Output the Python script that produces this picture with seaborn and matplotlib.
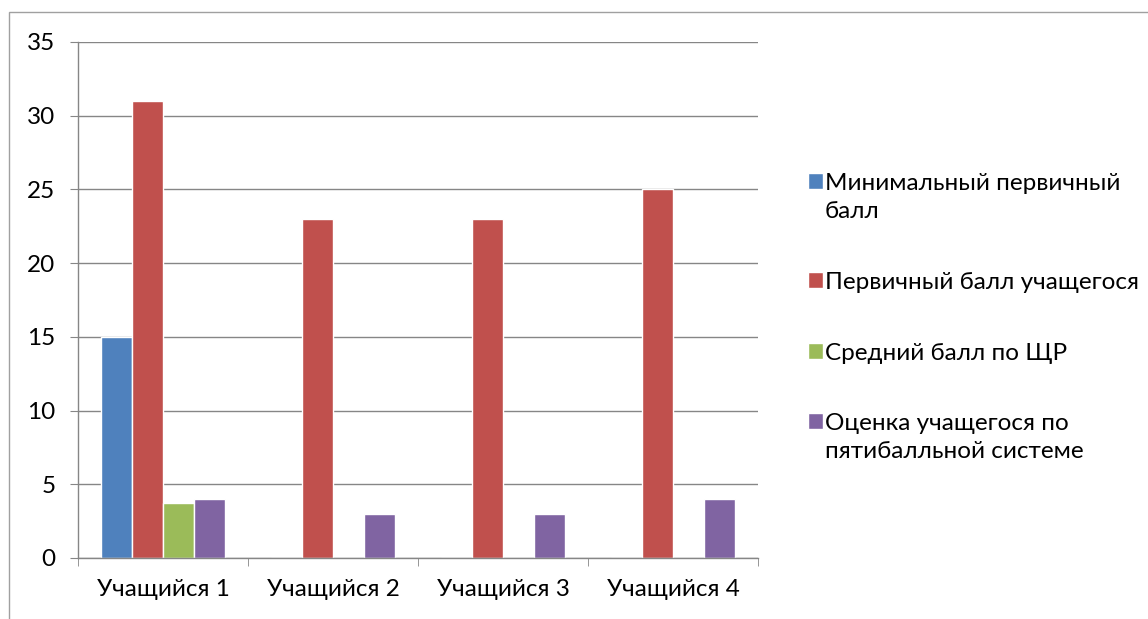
import matplotlib
matplotlib.use("Agg")
import matplotlib.pyplot as plt
from matplotlib.patches import Rectangle
from matplotlib.legend_handler import HandlerPatch
import pandas as pd
import seaborn as sns

students = ["Учащийся 1", "Учащийся 2", "Учащийся 3", "Учащийся 4"]
series = ["Минимальный первичный\nбалл", "Первичный балл учащегося",
          "Средний балл по ЩР", "Оценка учащегося по\nпятибалльной системе"]
min_score = [15, 0, 0, 0]
primary_score = [31, 23, 23, 25]
avg_score = [3.7, 0, 0, 0]
grade = [4, 3, 3, 4]
colors = ["#4F81BD", "#C0504D", "#9BBB59", "#8064A2"]

rows = []
for name, vals in zip(series, [min_score, primary_score, avg_score, grade]):
    for s, v in zip(students, vals):
        rows.append({"student": s, "series": name, "value": v})
df = pd.DataFrame(rows)


# legend square next to the first line of a wrapped label (like Excel)
class TopHandler(HandlerPatch):
    def __init__(self, shift):
        super().__init__()
        self.shift = shift

    def create_artists(self, legend, orig_handle, xdescent, ydescent,
                       width, height, fontsize, trans):
        p = Rectangle((-xdescent, -ydescent + self.shift * fontsize), width, height)
        self.update_prop(p, orig_handle, legend)
        p.set_transform(trans)
        return [p]


sns.set_style("white")
plt.rcParams["font.family"] = ["Lato", "DejaVu Sans"]
plt.rcParams["text.color"] = "black"
plt.rcParams["xtick.labelcolor"] = "black"
plt.rcParams["ytick.labelcolor"] = "black"

fig = plt.figure(figsize=(11.48, 6.19), dpi=100)
ax = fig.add_axes([78 / 1148, 61 / 619, 680 / 1148, 516 / 619])

sns.barplot(data=df, x="student", y="value", hue="series", palette=colors,
            width=0.73, saturation=1, ax=ax, errorbar=None, legend=True)

ax.set_ylim(0, 35)
ax.set_xlim(-0.5, 3.5)
ax.set_yticks(range(0, 36, 5))
ax.yaxis.grid(True, color="#868686", linewidth=1)
ax.set_axisbelow(True)
ax.set_xlabel("")
ax.set_ylabel("")

for side in ["top", "right"]:
    ax.spines[side].set_visible(False)
for side in ["left", "bottom"]:
    ax.spines[side].set_color("#868686")
    ax.spines[side].set_linewidth(1)

ax.tick_params(axis="y", which="major", length=5.8, color="#868686",
               labelsize=17.5, pad=10.5, left=True, labelcolor="black")
ax.tick_params(axis="x", which="major", length=0, labelsize=17.5, pad=15,
               labelcolor="black")
ax.set_xticks([-0.5, 0.5, 1.5, 2.5, 3.5], minor=True)
ax.tick_params(axis="x", which="minor", length=5.8, color="#868686",
               bottom=True)

handles, labels = ax.get_legend_handles_labels()
hmap = {h: TopHandler(0.68 if "\n" in l else 0.0) for h, l in zip(handles, labels)}
leg = ax.legend(handles, labels, loc="upper left", bbox_to_anchor=(1.0735, 0.746),
                frameon=False, fontsize=17.5, handlelength=0.6,
                handleheight=0.6, handletextpad=0.1, labelspacing=2.05,
                borderpad=0, borderaxespad=0, handler_map=hmap,
                labelcolor="black")
for t in leg.get_texts():
    t.set_linespacing(1.4)

fig.add_artist(Rectangle((9 / 1148, -0.1), 1.2, 1.1 - 12 / 619,
                         transform=fig.transFigure, fill=False,
                         edgecolor="#A0A0A0", linewidth=1))

fig.savefig("out.png", dpi=100)
